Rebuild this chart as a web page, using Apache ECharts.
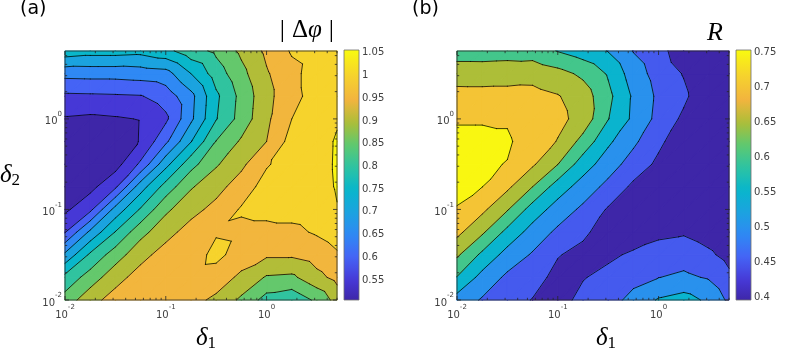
<!DOCTYPE html>
<html><head><meta charset="utf-8">
<script src="https://cdn.jsdelivr.net/npm/echarts@6/dist/echarts.min.js"></script>
<style>html,body{margin:0;padding:0;background:#fff}#c{width:803px;height:351px}</style>
</head><body><div id="c"></div>
<script>
// ---------- data ----------
const delta1 = [0.01, 0.0178, 0.0316, 0.0562, 0.1, 0.178, 0.316, 0.562, 1, 1.78, 3.16, 5];
const delta2 = [0.01, 0.0178, 0.0316, 0.0562, 0.1, 0.178, 0.316, 0.562, 1, 1.78, 3.16, 5.62];
// |Δφ| values, one row per delta2 (bottom to top), one column per delta1
const phaseDiff = [
  [0.87, 0.933, 0.97, 0.98, 0.98, 0.965, 0.94, 0.89, 0.83, 0.815, 0.86, 0.92],
  [0.815, 0.872, 0.932, 0.97, 0.985, 0.98, 0.975, 0.94, 0.895, 0.89, 0.935, 0.965],
  [0.71, 0.809, 0.875, 0.934, 0.97, 0.975, 1.015, 0.975, 0.958, 0.958, 0.975, 0.995],
  [0.597, 0.711, 0.802, 0.883, 0.933, 0.97, 0.995, 0.99, 0.99, 0.99, 1.005, 1.02],
  [0.54, 0.588, 0.718, 0.805, 0.89, 0.934, 0.965, 1.005, 1.01, 1.015, 1.02, 1.048],
  [0.515, 0.535, 0.591, 0.727, 0.82, 0.895, 0.933, 0.974, 1.02, 1.025, 1.03, 1.054],
  [0.506, 0.515, 0.53, 0.609, 0.734, 0.832, 0.894, 0.939, 0.995, 1.025, 1.03, 1.056],
  [0.52, 0.52, 0.52, 0.553, 0.64, 0.748, 0.852, 0.907, 0.95, 1.02, 1.03, 1.055],
  [0.545, 0.54, 0.545, 0.552, 0.59, 0.69, 0.797, 0.87, 0.94, 1.0, 1.025, 1.045],
  [0.59, 0.592, 0.594, 0.597, 0.623, 0.685, 0.79, 0.865, 0.935, 0.985, 1.02, 1.03],
  [0.666, 0.668, 0.668, 0.673, 0.68, 0.75, 0.824, 0.885, 0.945, 0.985, 1.025, 1.025],
  [0.78, 0.77, 0.77, 0.765, 0.785, 0.83, 0.86, 0.91, 0.96, 1.005, 1.02, 1.02]
];
// R values
const orderR = [
  [0.53, 0.495, 0.47, 0.448, 0.43, 0.465, 0.48, 0.515, 0.555, 0.57, 0.54, 0.49],
  [0.598, 0.533, 0.49, 0.47, 0.435, 0.447, 0.465, 0.485, 0.499, 0.51, 0.495, 0.46],
  [0.658, 0.589, 0.531, 0.495, 0.453, 0.435, 0.44, 0.458, 0.469, 0.476, 0.458, 0.435],
  [0.713, 0.658, 0.585, 0.53, 0.49, 0.46, 0.425, 0.42, 0.44, 0.445, 0.43, 0.415],
  [0.7492, 0.711, 0.654, 0.578, 0.528, 0.49, 0.445, 0.42, 0.42, 0.41, 0.405, 0.40],
  [0.754, 0.7505, 0.71, 0.65, 0.576, 0.528, 0.486, 0.44, 0.425, 0.405, 0.40, 0.40],
  [0.754, 0.754, 0.749, 0.707, 0.651, 0.574, 0.524, 0.478, 0.44, 0.41, 0.40, 0.398],
  [0.754, 0.754, 0.754, 0.735, 0.697, 0.633, 0.559, 0.51, 0.46, 0.42, 0.40, 0.396],
  [0.7485, 0.7485, 0.747, 0.73, 0.715, 0.68, 0.602, 0.54, 0.485, 0.44, 0.405, 0.40],
  [0.716, 0.716, 0.716, 0.715, 0.703, 0.675, 0.613, 0.543, 0.49, 0.46, 0.41, 0.40],
  [0.679, 0.678, 0.68, 0.684, 0.667, 0.64, 0.595, 0.525, 0.48, 0.447, 0.405, 0.40],
  [0.625, 0.625, 0.628, 0.625, 0.598, 0.575, 0.548, 0.498, 0.468, 0.42, 0.405, 0.40]
];
const levelsA = [0.55, 0.6, 0.65, 0.7, 0.75, 0.8, 0.85, 0.9, 0.95, 1.0, 1.05];
const levelsB = [0.45, 0.5, 0.55, 0.6, 0.65, 0.7, 0.75];
const climA = [0.506, 1.056];
const climB = [0.396, 0.754];
const cbTicksA = [0.55, 0.6, 0.65, 0.7, 0.75, 0.8, 0.85, 0.9, 0.95, 1, 1.05];
const cbTicksB = [0.4, 0.45, 0.5, 0.55, 0.6, 0.65, 0.7, 0.75];
const xRange = [0.01, 5];
const yRange = [0.01, 5.62];

// ---------- colormap (parula-like) ----------
const parula = [[0,'#3e26a8'],[0.08,'#4638d6'],[0.17,'#4563f5'],[0.26,'#2f88f4'],[0.35,'#1ca2e0'],
  [0.44,'#08b6cc'],[0.53,'#2dc3a2'],[0.62,'#5fc96f'],[0.71,'#adbe38'],[0.80,'#f2b43e'],[0.90,'#f6d42c'],[1,'#f9fb0e']];
function h2r(h){return [parseInt(h.slice(1,3),16),parseInt(h.slice(3,5),16),parseInt(h.slice(5,7),16)];}
function cmap(f){
  f = Math.max(0, Math.min(1, f));
  for (let k = 0; k < parula.length - 1; k++) {
    const a = parula[k], b = parula[k+1];
    if (f <= b[0]) {
      const t = (f - a[0]) / (b[0] - a[0]); const ca = h2r(a[1]), cb = h2r(b[1]);
      return 'rgb(' + ca.map((v, i) => Math.round(v + t * (cb[i] - v))).join(',') + ')';
    }
  }
  return parula[parula.length-1][1];
}

// ---------- contour helpers ----------
function clipPoly(poly, L, above){
  const out = [];
  for (let k = 0; k < poly.length; k++) {
    const A = poly[k], B = poly[(k+1) % poly.length];
    const ia = above ? A[2] >= L : A[2] <= L;
    const ib = above ? B[2] >= L : B[2] <= L;
    if (ia) out.push(A);
    if (ia !== ib) { const t = (L - A[2]) / (B[2] - A[2]); out.push([A[0]+t*(B[0]-A[0]), A[1]+t*(B[1]-A[1]), L]); }
  }
  return out;
}
function cellTris(api, Z){
  const i = api.value(2), j = api.value(3);
  const P = [[i,j],[i+1,j],[i+1,j+1],[i,j+1]].map(([a,b]) => {
    const c = api.coord([delta1[a], delta2[b]]); return [c[0], c[1], Z[b][a]];
  });
  return [[P[0],P[1],P[2]],[P[0],P[2],P[3]]];
}
function makeFill(Z, levels, clim){
  const bands = [[-Infinity, levels[0], cmap(0)]];
  for (let k = 0; k < levels.length; k++)
    bands.push([levels[k], k + 1 < levels.length ? levels[k+1] : Infinity, cmap((levels[k]-clim[0])/(clim[1]-clim[0]))]);
  return function(params, api){
    const children = [];
    for (const tri of cellTris(api, Z)) {
      for (const [lo, hi, col] of bands) {
        let p = tri;
        if (lo > -Infinity) p = clipPoly(p, lo, true);
        if (p.length >= 3 && hi < Infinity) p = clipPoly(p, hi, false);
        if (p.length >= 3) children.push({type:'polygon', shape:{points:p.map(q=>[q[0],q[1]])},
          style:{fill:col, stroke:col, lineWidth:1.1, lineJoin:'round'}});
      }
    }
    return {type:'group', children};
  };
}
function makeLines(Z, levels){
  return function(params, api){
    const children = [];
    for (const tri of cellTris(api, Z)) {
      for (const L of levels) {
        const pts = [];
        for (let k = 0; k < 3; k++) {
          const A = tri[k], B = tri[(k+1)%3];
          if ((A[2] >= L) !== (B[2] >= L)) { const t = (L-A[2])/(B[2]-A[2]); pts.push([A[0]+t*(B[0]-A[0]), A[1]+t*(B[1]-A[1])]); }
        }
        if (pts.length === 2) children.push({type:'line', shape:{x1:pts[0][0],y1:pts[0][1],x2:pts[1][0],y2:pts[1][1]},
          style:{stroke:'rgba(0,0,0,0.9)', lineWidth:0.85, lineCap:'round'}});
      }
    }
    return {type:'group', children};
  };
}
function decor(params, api){
  const bl = api.coord([xRange[0], yRange[0]]), tr = api.coord([xRange[1], yRange[1]]);
  const ch = [{type:'rect', shape:{x:bl[0], y:tr[1], width:tr[0]-bl[0], height:bl[1]-tr[1]},
    style:{fill:null, stroke:'#262626', lineWidth:0.8}}];
  const st = {stroke:'#262626', lineWidth:0.8};
  for (let e = -2; e <= 0; e++) for (let m = 1; m <= 9; m++) {
    const v = m * Math.pow(10, e); const len = m === 1 ? 4 : 2.2;
    if (v <= xRange[1]) { const x = api.coord([v, yRange[0]])[0];
      ch.push({type:'line', shape:{x1:x,y1:bl[1],x2:x,y2:bl[1]-len}, style:st});
      ch.push({type:'line', shape:{x1:x,y1:tr[1],x2:x,y2:tr[1]+len}, style:st}); }
    if (v <= yRange[1]) { const y = api.coord([xRange[0], v])[1];
      ch.push({type:'line', shape:{x1:bl[0],y1:y,x2:bl[0]+len,y2:y}, style:st});
      ch.push({type:'line', shape:{x1:tr[0],y1:y,x2:tr[0]-len,y2:y}, style:st}); }
  }
  return {type:'group', children:ch};
}
function makeBar(clim){
  return function(params, api){
    const p0 = api.coord([0, clim[0]]), p1 = api.coord([1, clim[1]]);
    const stops = []; for (let k = 0; k <= 40; k++) stops.push({offset:k/40, color:cmap(k/40)});
    return {type:'rect', shape:{x:p0[0], y:p1[1], width:p1[0]-p0[0], height:p0[1]-p1[1]},
      style:{fill:new echarts.graphic.LinearGradient(0,1,0,0,stops), stroke:'#6e6e6e', lineWidth:0.8}};
  };
}

const cells = [];
for (let j = 0; j < delta2.length - 1; j++) for (let i = 0; i < delta1.length - 1; i++) cells.push([delta1[i], delta2[j], i, j]);

const supRich = {b:{fontSize:10, color:'#404040', fontFamily:'DejaVu Sans', lineHeight:16, verticalAlign:'bottom'},
                 s:{fontSize:7, color:'#404040', fontFamily:'DejaVu Sans', lineHeight:6, verticalAlign:'top'}};
function logFmt(v){ const e = Math.log10(v), r = Math.round(e); if (Math.abs(e-r) > 1e-6) return ''; return '{b|10}{s|' + r + '}'; }
function logX(g){ return {type:'log', logBase:10, gridIndex:g, min:xRange[0], max:xRange[1], axisLine:{show:false}, axisTick:{show:false},
  splitLine:{show:false}, axisLabel:{formatter:logFmt, rich:supRich, margin:4}}; }
function logY(g){ return {type:'log', logBase:10, gridIndex:g, min:yRange[0], max:yRange[1], axisLine:{show:false}, axisTick:{show:false},
  splitLine:{show:false}, axisLabel:{formatter:logFmt, rich:supRich, margin:3}}; }
function cbX(g){ return {type:'value', gridIndex:g, min:0, max:1, show:false}; }
function cbY(g, clim, ticks){ return {type:'value', gridIndex:g, min:clim[0], max:clim[1], position:'right',
  axisLine:{show:false}, splitLine:{show:false},
  axisTick:{show:true, customValues:ticks, length:3, inside:false, lineStyle:{color:'#6e6e6e'}},
  axisLabel:{customValues:ticks, formatter:v=>String(Number((+v).toFixed(2))), fontSize:10, color:'#404040', fontFamily:'DejaVu Sans', margin:3}}; }

const serif = 'Liberation Serif';
const subRich = {d:{fontSize:25, fontFamily:serif, fontStyle:'italic', fill:'#000', lineHeight:26, verticalAlign:'top'},
                 s:{fontSize:17, fontFamily:serif, fill:'#000', lineHeight:18, verticalAlign:'bottom'}};
const chart = echarts.init(document.getElementById('c'));
chart.setOption({
  animation:false,
  backgroundColor:'#fff',
  grid:[
    {left:65, top:51, width:272, height:249},
    {left:457, top:51, width:272, height:249},
    {left:344, top:50, width:15, height:250},
    {left:736, top:50, width:15, height:250}
  ],
  xAxis:[logX(0), logX(1), cbX(2), cbX(3)],
  yAxis:[logY(0), logY(1), cbY(2, climA, cbTicksA), cbY(3, climB, cbTicksB)],
  series:[
    {type:'custom', xAxisIndex:0, yAxisIndex:0, data:cells, encode:{x:0,y:1}, renderItem:makeFill(phaseDiff, levelsA, climA), z:1, silent:true},
    {type:'custom', xAxisIndex:0, yAxisIndex:0, data:cells, encode:{x:0,y:1}, renderItem:makeLines(phaseDiff, levelsA), z:2, silent:true},
    {type:'custom', xAxisIndex:0, yAxisIndex:0, data:[[xRange[0], yRange[0]]], renderItem:decor, z:3, silent:true},
    {type:'custom', xAxisIndex:1, yAxisIndex:1, data:cells, encode:{x:0,y:1}, renderItem:makeFill(orderR, levelsB, climB), z:1, silent:true},
    {type:'custom', xAxisIndex:1, yAxisIndex:1, data:cells, encode:{x:0,y:1}, renderItem:makeLines(orderR, levelsB), z:2, silent:true},
    {type:'custom', xAxisIndex:1, yAxisIndex:1, data:[[xRange[0], yRange[0]]], renderItem:decor, z:3, silent:true},
    {type:'custom', xAxisIndex:2, yAxisIndex:2, data:[[0, climA[0]]], renderItem:makeBar(climA), silent:true},
    {type:'custom', xAxisIndex:3, yAxisIndex:3, data:[[0, climB[0]]], renderItem:makeBar(climB), silent:true}
  ],
  graphic:[
    {type:'text', left:20, top:0, style:{text:'(a)', fontSize:19, fontFamily:'DejaVu Sans', fill:'#000'}},
    {type:'text', left:412, top:0, style:{text:'(b)', fontSize:19, fontFamily:'DejaVu Sans', fill:'#000'}},
    {type:'text', right:469, top:17, style:{text:'{n||}{g|Δ}{i|φ}{n||}', rich:{
      n:{fontSize:26, fontFamily:serif, fill:'#000', padding:[0,7,0,7]},
      g:{fontSize:25, fontFamily:serif, fill:'#000'},
      i:{fontSize:25, fontFamily:serif, fontStyle:'italic', fill:'#000'}}}},
    {type:'text', right:80, top:20, style:{text:'R', fontSize:26, fontFamily:serif, fontStyle:'italic', fill:'#000'}},
    {type:'text', left:196, top:326, style:{text:'{d|δ}{s|1}', rich:subRich}},
    {type:'text', left:596, top:326, style:{text:'{d|δ}{s|1}', rich:subRich}},
    {type:'text', left:0, top:163, style:{text:'{d|δ}{s|2}', rich:subRich}}
  ]
});
</script></body></html>
